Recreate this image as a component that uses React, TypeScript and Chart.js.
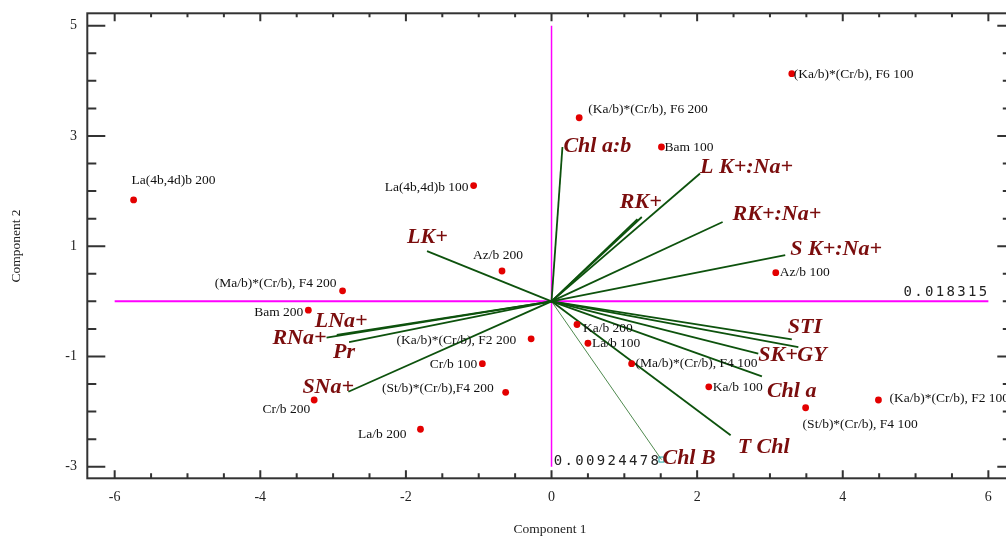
import React, { useEffect, useRef } from 'react';
import { Chart, registerables } from 'chart.js';
Chart.register(...registerables);

// ---- data ----
const pointNames = [
  'La(4b,4d)b 200', 'La(4b,4d)b 100', '(Ka/b)*(Cr/b), F6 200', 'Bam 100', '(Ka/b)*(Cr/b), F6 100',
  'Az/b 200', 'Az/b 100', '(Ma/b)*(Cr/b), F4 200', 'Bam 200', 'Cr/b 200',
  '(Ka/b)*(Cr/b), F2 200', 'Cr/b 100', '(St/b)*(Cr/b),F4 200', 'La/b 200', 'Ka/b 200',
  'La/b 100', '(Ma/b)*(Cr/b), F4 100', 'Ka/b 100', '(St/b)*(Cr/b), F4 100', '(Ka/b)*(Cr/b), F2 100',
];
const pointX = [-5.74, -1.07, 0.38, 1.51, 3.30, -0.68, 3.08, -2.87, -3.34, -3.26, -0.28, -0.95, -0.63, -1.80, 0.35, 0.50, 1.10, 2.16, 3.49, 4.49];
const pointY = [1.84, 2.10, 3.33, 2.80, 4.13, 0.55, 0.52, 0.19, -0.16, -1.79, -0.68, -1.13, -1.65, -2.32, -0.42, -0.76, -1.13, -1.55, -1.93, -1.79];

const vectorNames = ['Chl a:b', 'LK+', 'RK+', '', 'L K+:Na+', 'RK+:Na+', 'S K+:Na+', 'STI', 'GY', 'SK+', 'Chl a', 'T Chl', 'Chl B', 'LNa+', 'RNa+', 'Pr', 'SNa+'];
const vectorX = [0.15, -1.71, 1.24, 1.18, 2.04, 2.35, 3.21, 3.30, 3.39, 2.84, 2.89, 2.46, 1.51, -2.95, -3.09, -2.78, -2.79];
const vectorY = [2.80, 0.91, 1.53, 1.49, 2.32, 1.44, 0.84, -0.69, -0.83, -0.95, -1.36, -2.43, -2.87, -0.61, -0.66, -0.74, -1.64];

const xTickValues = [-6, -4, -2, 0, 2, 4, 6];
const yTickValues = [5, 3, 1, -1, -3];
const eigenHoriz = '0.018315';
const eigenVert = '0.00924478';
const xTitle = 'Component 1';
const yTitle = 'Component 2';

// ---- label placement (pixel offsets from mark) ----
type Place = [CanvasTextAlign, number, number];
const pointPlace: Place[] = [
  ['left', -2, -19], ['right', -5, 2], ['left', 9, -8], ['left', 3, 0], ['left', 2, 1],
  ['center', -4, -16], ['left', 4, 0], ['right', -6, -7], ['right', -5, 2], ['right', -4, 9],
  ['right', -15, 2], ['right', -5, 1], ['right', -12, -4], ['right', -14, 5], ['left', 6, 4],
  ['left', 4, 0], ['left', 4, 0], ['left', 4, 1], ['left', -3, 17], ['left', 11, -2],
];
const vectorPlace: Place[] = [
  ['left', 1, -1], ['left', -20, -14], ['left', -22, -15], ['left', 0, 0], ['left', 0, -6],
  ['left', 10, -8], ['left', 5, -6], ['left', -4, -12], ['left', -1, 8], ['left', 0, 2],
  ['left', 5, 15], ['left', 7, 12], ['left', 1, -1], ['left', -22, -14], ['right', 0, 1],
  ['left', -16, 10], ['left', -46, -4],
];

const SERIF = '"Liberation Serif", "Times New Roman", serif';

const overlay = {
  id: 'biplotOverlay',
  afterDatasetsDraw(chart: any) {
    const { ctx, chartArea: a, scales } = chart;
    const xs = scales.x, ys = scales.y;
    ctx.save();
    // Chl B end marker
    {
      const i = vectorNames.indexOf('Chl B');
      const px = xs.getPixelForValue(vectorX[i]);
      const py = ys.getPixelForValue(vectorY[i]);
      ctx.strokeStyle = '#1aa3a3';
      ctx.lineWidth = 1;
      ctx.strokeRect(px - 2.5, py - 2.5, 5, 5);
    }
    // frame
    ctx.strokeStyle = '#333';
    ctx.lineWidth = 2;
    ctx.strokeRect(a.left, a.top, a.right - a.left, a.bottom - a.top);
    // ticks
    ctx.lineWidth = 2;
    ctx.beginPath();
    for (let v = Math.ceil(xs.min * 2) / 2; v <= xs.max + 1e-9; v += 0.5) {
      const px = xs.getPixelForValue(v);
      const major = xTickValues.includes(v);
      ctx.moveTo(px, a.bottom); ctx.lineTo(px, a.bottom - (major ? 8 : 5));
      ctx.moveTo(px, a.top); ctx.lineTo(px, a.top + (major ? 8 : 4));
    }
    for (let v = Math.ceil(ys.min * 2) / 2; v <= ys.max + 1e-9; v += 0.5) {
      const py = ys.getPixelForValue(v);
      const major = yTickValues.includes(v);
      ctx.moveTo(a.left, py); ctx.lineTo(a.left + (major ? 18 : 9), py);
      ctx.moveTo(a.right, py); ctx.lineTo(a.right - (major ? 10 : 4.5), py);
    }
    ctx.stroke();
    // tick labels
    ctx.fillStyle = '#222';
    ctx.font = `14px ${SERIF}`;
    ctx.textBaseline = 'middle';
    ctx.textAlign = 'center';
    xTickValues.forEach((v) => ctx.fillText(String(v), xs.getPixelForValue(v), 497));
    ctx.textAlign = 'right';
    yTickValues.forEach((v) => ctx.fillText(String(v), 77, ys.getPixelForValue(v)));
    // axis titles
    ctx.font = `13.5px ${SERIF}`;
    ctx.textAlign = 'center';
    ctx.fillText(xTitle, 550, 529);
    ctx.save();
    ctx.translate(16, 246);
    ctx.rotate(-Math.PI / 2);
    ctx.fillText(yTitle, 0, 0);
    ctx.restore();
    // point labels
    ctx.font = `13.5px ${SERIF}`;
    ctx.fillStyle = '#111';
    pointNames.forEach((name, i) => {
      const [al, dx, dy] = pointPlace[i];
      ctx.textAlign = al;
      ctx.fillText(name, xs.getPixelForValue(pointX[i]) + dx, ys.getPixelForValue(pointY[i]) + dy);
    });
    // vector labels
    ctx.font = `bold italic 22px ${SERIF}`;
    ctx.fillStyle = '#7b0d0d';
    vectorNames.forEach((name, i) => {
      if (!name) return;
      const [al, dx, dy] = vectorPlace[i];
      ctx.textAlign = al;
      ctx.fillText(name, xs.getPixelForValue(vectorX[i]) + dx, ys.getPixelForValue(vectorY[i]) + dy);
    });
    // eigenvalue labels (segment-style)
    ctx.font = '14px "DejaVu Sans Mono", monospace';
    ctx.fillStyle = '#222';
    ctx.textAlign = 'center';
    const adv = 10.75;
    const hx1 = xs.getPixelForValue(xTickValues[xTickValues.length - 1]);
    const hy = ys.getPixelForValue(0) - 8.5;
    for (let k = 0; k < eigenHoriz.length; k++) {
      ctx.fillText(eigenHoriz[k], hx1 - (eigenHoriz.length - k - 0.5) * adv, hy);
    }
    const vx0 = xs.getPixelForValue(0) + 1;
    const vy = ys.getPixelForValue(yTickValues[yTickValues.length - 1]) - 5;
    for (let k = 0; k < eigenVert.length; k++) {
      ctx.fillText(eigenVert[k], vx0 + (k + 0.5) * adv, vy);
    }
    ctx.restore();
  },
};

export default function App() {
  const ref = useRef<HTMLCanvasElement>(null);
  useEffect(() => {
    document.body.style.margin = '0';
    const vectorSets = vectorNames.map((name, i) => ({
      type: 'line' as const,
      label: name || 'vec',
      data: [{ x: 0, y: 0 }, { x: vectorX[i], y: vectorY[i] }],
      borderColor: name === 'Chl B' ? '#4f8a4f' : '#0d520d',
      borderWidth: name === 'Chl B' ? 1 : 1.8,
      pointRadius: 0,
      fill: false,
      showLine: true,
      order: 1,
    }));
    const chart = new Chart(ref.current!, {
      type: 'scatter',
      data: {
        datasets: [
          {
            type: 'scatter' as const,
            label: 'objects',
            data: pointX.map((x, i) => ({ x, y: pointY[i] })),
            pointRadius: 3.4,
            pointBackgroundColor: '#e30000',
            pointBorderWidth: 0,
            order: 0,
          },
          ...vectorSets,
          {
            type: 'line' as const,
            label: 'h-axis',
            data: [{ x: xTickValues[0], y: 0 }, { x: xTickValues[xTickValues.length - 1], y: 0 }],
            borderColor: '#ff00ff',
            borderWidth: 2,
            pointRadius: 0,
            showLine: true,
            order: 2,
          },
          {
            type: 'line' as const,
            label: 'v-axis',
            data: [{ x: 0, y: yTickValues[yTickValues.length - 1] }, { x: 0, y: yTickValues[0] }],
            borderColor: '#ff00ff',
            borderWidth: 1.5,
            pointRadius: 0,
            showLine: true,
            order: 2,
          },
        ] as any,
      },
      options: {
        responsive: false,
        animation: false,
        devicePixelRatio: 1,
        layout: { padding: { left: 87.3, right: 4.7, top: 13.3, bottom: 59.7 } },
        plugins: { legend: { display: false }, tooltip: { enabled: false } },
        scales: {
          x: { type: 'linear', min: -6.376, max: 6.26, display: false },
          y: { type: 'linear', min: -3.21, max: 5.225, display: false },
        },
      },
      plugins: [overlay],
    });
    return () => chart.destroy();
  }, []);
  return (
    <div style={{ position: 'absolute', left: 0, top: 0, width: 1006, height: 538, overflow: 'hidden', background: '#fff' }}>
      <canvas ref={ref} width={1012} height={538} style={{ display: 'block', width: 1012, height: 538 }} />
    </div>
  );
}
